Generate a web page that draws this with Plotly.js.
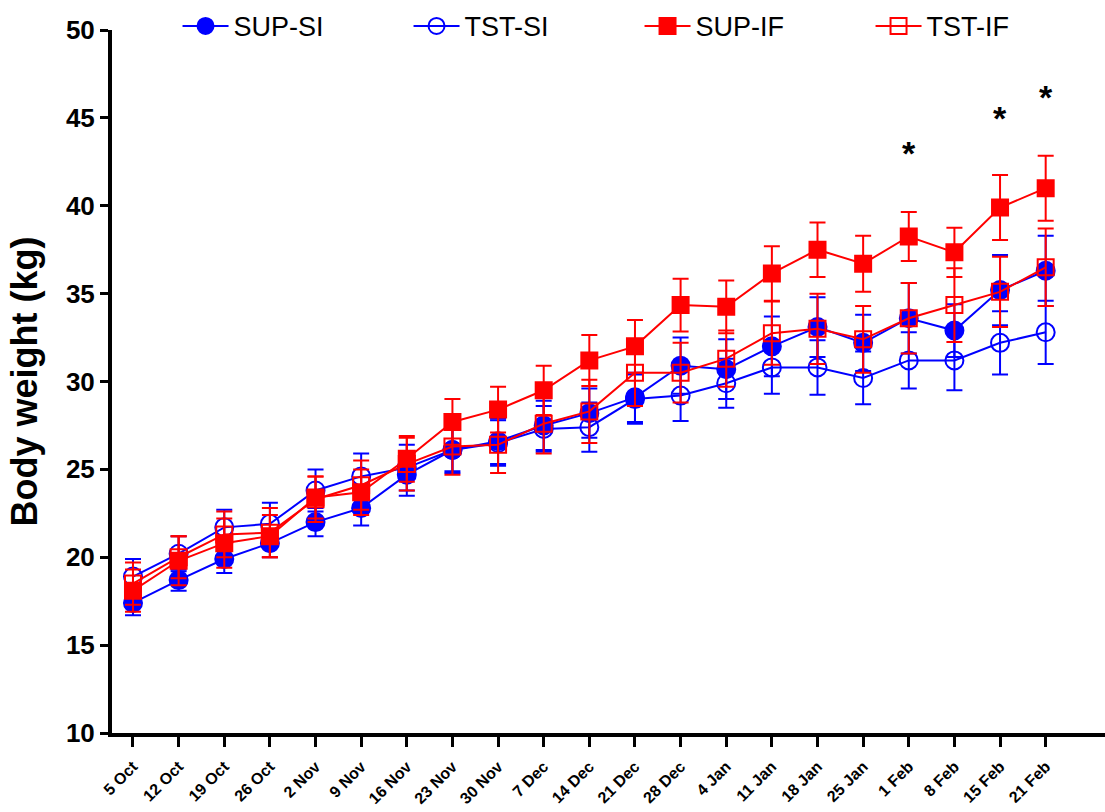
<!DOCTYPE html>
<html>
<head>
<meta charset="utf-8">
<script src="https://cdn.plot.ly/plotly-3.0.1.min.js"></script>
<style>html,body{margin:0;padding:0;background:#fff;}#chart{width:1105px;height:812px;}</style>
</head>
<body>
<div id="chart"></div>
<script>
var dates = ["5 Oct","12 Oct","19 Oct","26 Oct","2 Nov","9 Nov","16 Nov","23 Nov","30 Nov","7 Dec","14 Dec","21 Dec","28 Dec","4 Jan","11 Jan","18 Jan","25 Jan","1 Feb","8 Feb","15 Feb","21 Feb"];

var supSI    = [17.4, 18.7, 19.9, 20.8, 22.0, 22.8, 24.7, 26.1, 26.6, 27.5, 28.2, 29.1, 30.9, 30.7, 32.0, 33.1, 32.2, 33.6, 32.9, 35.2, 36.3];
var supSIerr = [0.7, 0.6, 0.8, 0.8, 0.8, 1.0, 1.2, 1.2, 1.3, 1.4, 1.4, 1.4, 1.6, 1.7, 1.7, 1.7, 1.6, 2.0, 1.5, 2.0, 2.0];

var tstSI    = [18.9, 20.2, 21.7, 21.9, 23.8, 24.6, 25.1, 26.1, 26.5, 27.3, 27.4, 29.0, 29.2, 29.9, 30.8, 30.8, 30.2, 31.2, 31.2, 32.2, 32.8];
var tstSIerr = [1.0, 1.0, 1.0, 1.2, 1.2, 1.3, 1.3, 1.3, 1.3, 1.3, 1.4, 1.4, 1.45, 1.4, 1.5, 1.55, 1.5, 1.6, 1.7, 1.8, 1.8];

var supIF    = [18.1, 19.8, 20.8, 21.2, 23.4, 23.7, 25.6, 27.7, 28.4, 29.5, 31.2, 32.0, 34.35, 34.25, 36.15, 37.5, 36.7, 38.25, 37.35, 39.9, 41.0];
var supIFerr = [1.2, 1.4, 1.4, 1.2, 1.2, 1.3, 1.3, 1.3, 1.3, 1.4, 1.45, 1.5, 1.5, 1.5, 1.55, 1.55, 1.6, 1.4, 1.4, 1.85, 1.85];

var tstIF    = [18.5, 20.0, 21.3, 21.4, 23.3, 24.1, 25.3, 26.3, 26.4, 27.6, 28.3, 30.5, 30.5, 31.3, 32.75, 33.0, 32.4, 33.6, 34.35, 35.1, 36.5];
var tstIFerr = [1.2, 1.2, 1.3, 1.4, 1.3, 1.4, 1.5, 1.6, 1.6, 1.7, 1.8, 1.9, 1.7, 1.6, 1.8, 2.0, 1.9, 2.0, 2.1, 2.0, 2.2];

var starDates  = ["1 Feb", "15 Feb", "21 Feb"];
var starValues = [43.0, 45.0, 46.2];

var BLUE = "#0000FF", RED = "#FF0000";
var FONT = "Liberation Sans, Arial, sans-serif";

function trace(name, y, err, color, symbol, size) {
  return {
    type: "scatter", mode: "lines+markers", name: name,
    x: dates, y: y,
    line: {color: color, width: 2},
    marker: {color: color, symbol: symbol, size: size, line: {color: color, width: 2}},
    error_y: {type: "data", array: err, visible: true, color: color, thickness: 2, width: 8}
  };
}

var data = [
  trace("SUP-SI", supSI, supSIerr, BLUE, "circle", 18),
  trace("TST-SI", tstSI, tstSIerr, BLUE, "circle-open", 18),
  trace("SUP-IF", supIF, supIFerr, RED, "square", 16),
  trace("TST-IF", tstIF, tstIFerr, RED, "square-open", 16)
];

var annotations = starDates.map(function(d, i) {
  return {x: d, y: starValues[i], xref: "x", yref: "y", text: "*", showarrow: false,
          font: {family: FONT, size: 34, color: "#000", weight: "bold"}};
});

var layout = {
  width: 1105, height: 812,
  margin: {l: 112, r: 0, t: 30, b: 79},
  paper_bgcolor: "#fff", plot_bgcolor: "#fff",
  font: {family: FONT, color: "#000"},
  showlegend: true,
  legend: {orientation: "h", x: 0.066, y: 1.04, xanchor: "left", yanchor: "top",
           itemwidth: 46, entrywidth: 170, entrywidthmode: "pixels",
           font: {size: 27, family: FONT, color: "#000"}},
  xaxis: {
    type: "category", range: [-0.46, 21.3],
    showline: true, linecolor: "#000", linewidth: 4, mirror: false,
    ticks: "outside", ticklen: 10, tickwidth: 3, tickcolor: "#000",
    showgrid: false, zeroline: false, tickangle: -45, automargin: false,
    ticklabelstandoff: 4,
    tickfont: {size: 16, weight: "bold", family: FONT}
  },
  yaxis: {
    range: [10, 50], dtick: 5, tick0: 10,
    showline: true, linecolor: "#000", linewidth: 4,
    ticks: "outside", ticklen: 8, tickwidth: 3, tickcolor: "#000",
    showgrid: false, zeroline: false, automargin: false,
    tickfont: {size: 26, weight: "bold", family: FONT},
    title: {text: "Body weight (kg)", standoff: 18,
            font: {size: 36, weight: "bold", family: FONT}}
  },
  annotations: annotations
};

Plotly.newPlot("chart", data, layout, {displayModeBar: false, staticPlot: true});
</script>
</body>
</html>
